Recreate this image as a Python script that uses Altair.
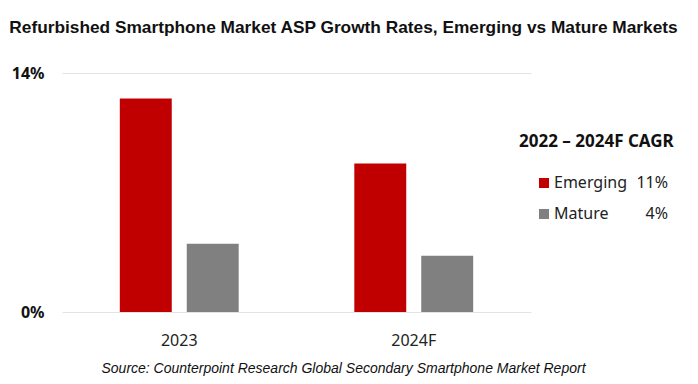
import altair as alt
import pandas as pd

periods = ["2023", "2024F"]
series = ["Emerging", "Mature"]
emerging = [0.125, 0.087]
mature = [0.040, 0.033]
cagr = ["11%", "4%"]
colors = ["#C00000", "#808080"]
title_text = "Refurbished Smartphone Market ASP Growth Rates, Emerging vs Mature Markets"
legend_title = "2022 \u2013 2024F CAGR"
source_text = "Source: Counterpoint Research Global Secondary Smartphone Market Report"

rows = []
for i, p in enumerate(periods):
    rows.append({"period": p, "series": series[0], "value": emerging[i]})
    rows.append({"period": p, "series": series[1], "value": mature[i]})
df = pd.DataFrame(rows)
leg = pd.DataFrame({"series": series, "cagr": cagr})
ttl = pd.DataFrame({"t": [legend_title]})

FONT = "Noto Sans"
color_scale = alt.Scale(domain=series, range=colors)

bars = alt.Chart(df).mark_bar().encode(
    x=alt.X("period:N", sort=periods,
            scale=alt.Scale(paddingInner=0.493, paddingOuter=0.2465),
            axis=alt.Axis(title=source_text, labelAngle=0, labelFont=FONT, labelFontSize=16,
                          labelColor="#222222", labelPadding=20, ticks=False, domain=False, grid=False,
                          titleFont="Liberation Sans", titleFontStyle="italic", titleFontWeight="normal",
                          titleFontSize=14, titleColor="#111111", titlePadding=13, titleX=281)),
    xOffset=alt.XOffset("series:N", sort=series,
                        scale=alt.Scale(paddingInner=0.224, paddingOuter=0)),
    y=alt.Y("value:Q", scale=alt.Scale(domain=[0, 0.14]),
            axis=alt.Axis(values=[0, 0.14], format=".0%", title=None, labelFont=FONT,
                          labelFontSize=16, labelFontWeight="bold", labelColor="#111111",
                          labelPadding=18, ticks=False, domain=False, gridColor="#e3e3e3")),
    color=alt.Color("series:N", scale=color_scale, legend=None),
)

ly = alt.Y("series:N", sort=series, scale=alt.Scale(type="point", range=[110, 141], padding=0), axis=None)

squares = alt.Chart(leg).mark_square(size=100, opacity=1).encode(
    x=alt.value(482), y=ly, color=alt.Color("series:N", scale=color_scale, legend=None))
labels = alt.Chart(leg).mark_text(align="left", baseline="middle", font=FONT, fontSize=16,
                                  color="#222222").encode(x=alt.value(492), y=ly, text="series:N")
vals = alt.Chart(leg).mark_text(align="right", baseline="middle", font=FONT, fontSize=16,
                                color="#222222").encode(x=alt.value(606), y=ly, text="cagr:N")
ltitle = alt.Chart(ttl).mark_text(align="left", baseline="middle", font=FONT, fontSize=17,
                                  fontWeight="bold", color="#111111").encode(
    x=alt.value(457), y=alt.value(69), text="t:N")

chart = alt.layer(bars, squares, labels, vals, ltitle).resolve_scale(y="independent").properties(
    width=469, height=239,
    padding={"left": 54, "top": 65, "right": 159, "bottom": 70},
    autosize=alt.AutoSizeParams(type="none"),
    background="white",
    title=alt.TitleParams(title_text, font="Liberation Sans", fontSize=17.3, fontWeight="bold",
                          color="#111111", anchor="middle", dx=47, offset=29),
).configure_view(stroke=None)

chart.save("out.html", embed_options={"renderer": "svg", "actions": False})
